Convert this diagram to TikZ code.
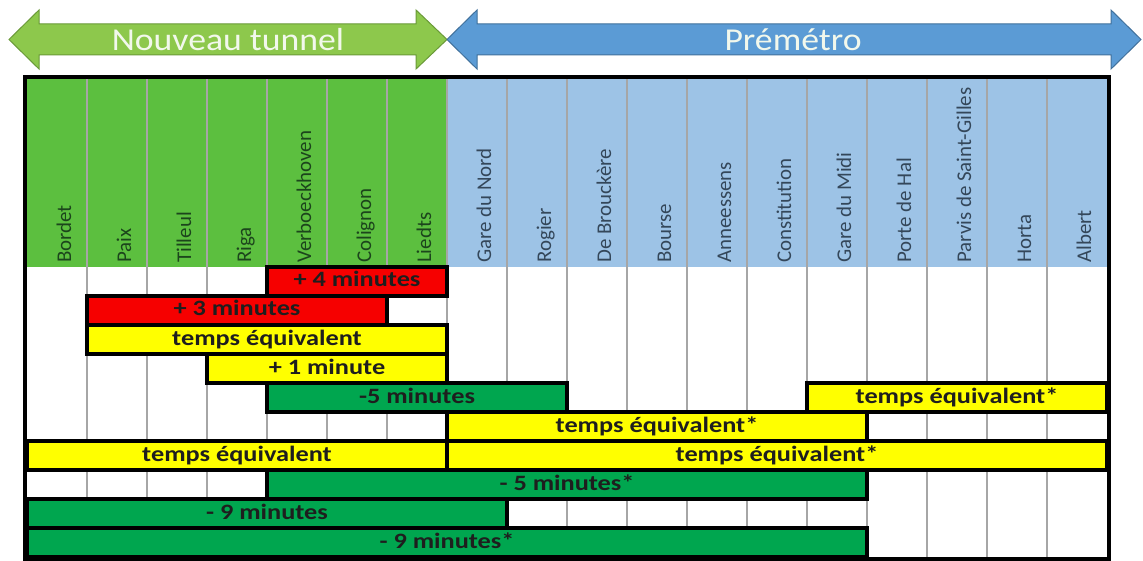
\documentclass[tikz,border=0pt]{standalone}
\usepackage{fontspec}
\setmainfont{Carlito}
\definecolor{hdrgreen}{HTML}{5CBF3F}
\definecolor{hdrblue}{HTML}{9DC3E6}
\definecolor{arrgreen}{HTML}{8DC84C}
\definecolor{arrgreenline}{HTML}{6A9A38}
\definecolor{arrblue}{HTML}{5B9BD5}
\definecolor{arrblueline}{HTML}{41719C}
\definecolor{barred}{HTML}{F60000}
\definecolor{baryellow}{HTML}{FFFF00}
\definecolor{bargreen}{HTML}{00A64F}
\definecolor{sepgrey}{HTML}{A6A6A6}
\definecolor{txtdark}{HTML}{1E1E1E}
\definecolor{hgtxt}{HTML}{1C451C}
\definecolor{hbtxt}{HTML}{34475A}
\definecolor{ttltxt}{HTML}{F2F8EC}
\newcommand{\hs}[1]{\scalebox{1.2}[1]{#1}}
\newcommand{\ts}[1]{\scalebox{1.12}[1]{#1}}
\begin{document}
\begin{tikzpicture}[x=1bp,y=-1bp,
  hdrtxt/.style={rotate=90, anchor=base west, inner sep=0pt, font=\fontsize{21}{21}\selectfont},
  hg/.style={hdrtxt, text=hgtxt},
  hb/.style={hdrtxt, text=hbtxt},
  bar/.style={draw=black, line width=3.5bp, inner sep=0pt, minimum height=29bp,
    text height=15bp, text depth=4bp, font=\fontsize{22}{22}\selectfont\bfseries, text=txtdark},
  rbar/.style={bar, fill=barred},
  ybar/.style={bar, fill=baryellow},
  gbar/.style={bar, fill=bargreen},
  ttl/.style={anchor=base, inner sep=0pt, text=ttltxt, font=\fontsize{32}{32}\selectfont},
  sep/.style={draw=sepgrey, line width=2.5bp}]
\useasboundingbox (0,0) rectangle (1143,561);
\fill[white] (0,0) rectangle (1143,561);
% title arrows
\draw[fill=arrgreen, draw=arrgreenline, line width=1bp]
  (9,39.5) -- (39,10) -- (39,24) -- (416,24) -- (416,10) -- (447,39.5)
  -- (416,69) -- (416,55) -- (39,55) -- (39,69) -- cycle;
\draw[fill=arrblue, draw=arrblueline, line width=1bp]
  (447,39.5) -- (477,10) -- (477,24) -- (1111,24) -- (1111,10) -- (1141,39.5)
  -- (1111,69) -- (1111,55) -- (477,55) -- (477,69) -- cycle;
\node[ttl] (tunnel) at (228,51) {\ts{Nouveau tunnel}};
\node[ttl] (premetro) at (793,51) {\ts{Prémétro}};
% header
\fill[hdrgreen] (27,79) rectangle (447,267);
\fill[hdrblue] (447,79) rectangle (1107,267);
\foreach \i in {1,...,17} {
  \draw[sep] ({27+60*\i},79) -- ({27+60*\i},557);
}
\node[hg] (s1) at (71,263) {Bordet};
\node[hg] (s2) at (131,263) {Paix};
\node[hg] (s3) at (191,263) {Tilleul};
\node[hg] (s4) at (251,263) {Riga};
\node[hg] (s5) at (311,263) {Verboeckhoven};
\node[hg] (s6) at (371,263) {Colignon};
\node[hg] (s7) at (431,263) {Liedts};
\node[hb] (s8) at (491,263) {Gare du Nord};
\node[hb] (s9) at (551,263) {Rogier};
\node[hb] (s10) at (611,263) {De Brouckère};
\node[hb] (s11) at (671,263) {Bourse};
\node[hb] (s12) at (731,263) {Anneessens};
\node[hb] (s13) at (791,263) {Constitution};
\node[hb] (s14) at (851,263) {Gare du Midi};
\node[hb] (s15) at (911,263) {Porte de Hal};
\node[hb] (s16) at (971,263) {Parvis de Saint-Gilles};
\node[hb] (s17) at (1031,263) {Horta};
\node[hb] (s18) at (1091,263) {Albert};
% bars
\node[rbar, minimum width=180bp] (b1) at (357,281.5) {\hs{+ 4 minutes}};
\node[rbar, minimum width=300bp] (b2) at (237,310.5) {\hs{+ 3 minutes}};
\node[ybar, minimum width=360bp] (b3) at (267,339.5) {\hs{temps équivalent}};
\node[ybar, minimum width=240bp] (b4) at (327,368.5) {\hs{+ 1 minute}};
\node[gbar, minimum width=300bp] (b5) at (417,397.5) {\hs{-5 minutes}};
\node[ybar, minimum width=300bp] (b6) at (957,397.5) {\hs{temps équivalent*}};
\node[ybar, minimum width=420bp] (b7) at (657,426.5) {\hs{temps équivalent*}};
\node[ybar, minimum width=420bp] (b8) at (237,455.5) {\hs{temps équivalent}};
\node[ybar, minimum width=660bp] (b9) at (777,455.5) {\hs{temps équivalent*}};
\node[gbar, minimum width=600bp] (b10) at (567,484.5) {\hs{- 5 minutes*}};
\node[gbar, minimum width=480bp] (b11) at (267,513.5) {\hs{- 9 minutes}};
\node[gbar, minimum width=840bp] (b12) at (447,542.5) {\hs{- 9 minutes*}};
% frame
\draw[line width=4bp] (25,77) rectangle (1109,559);
\end{tikzpicture}
\end{document}
